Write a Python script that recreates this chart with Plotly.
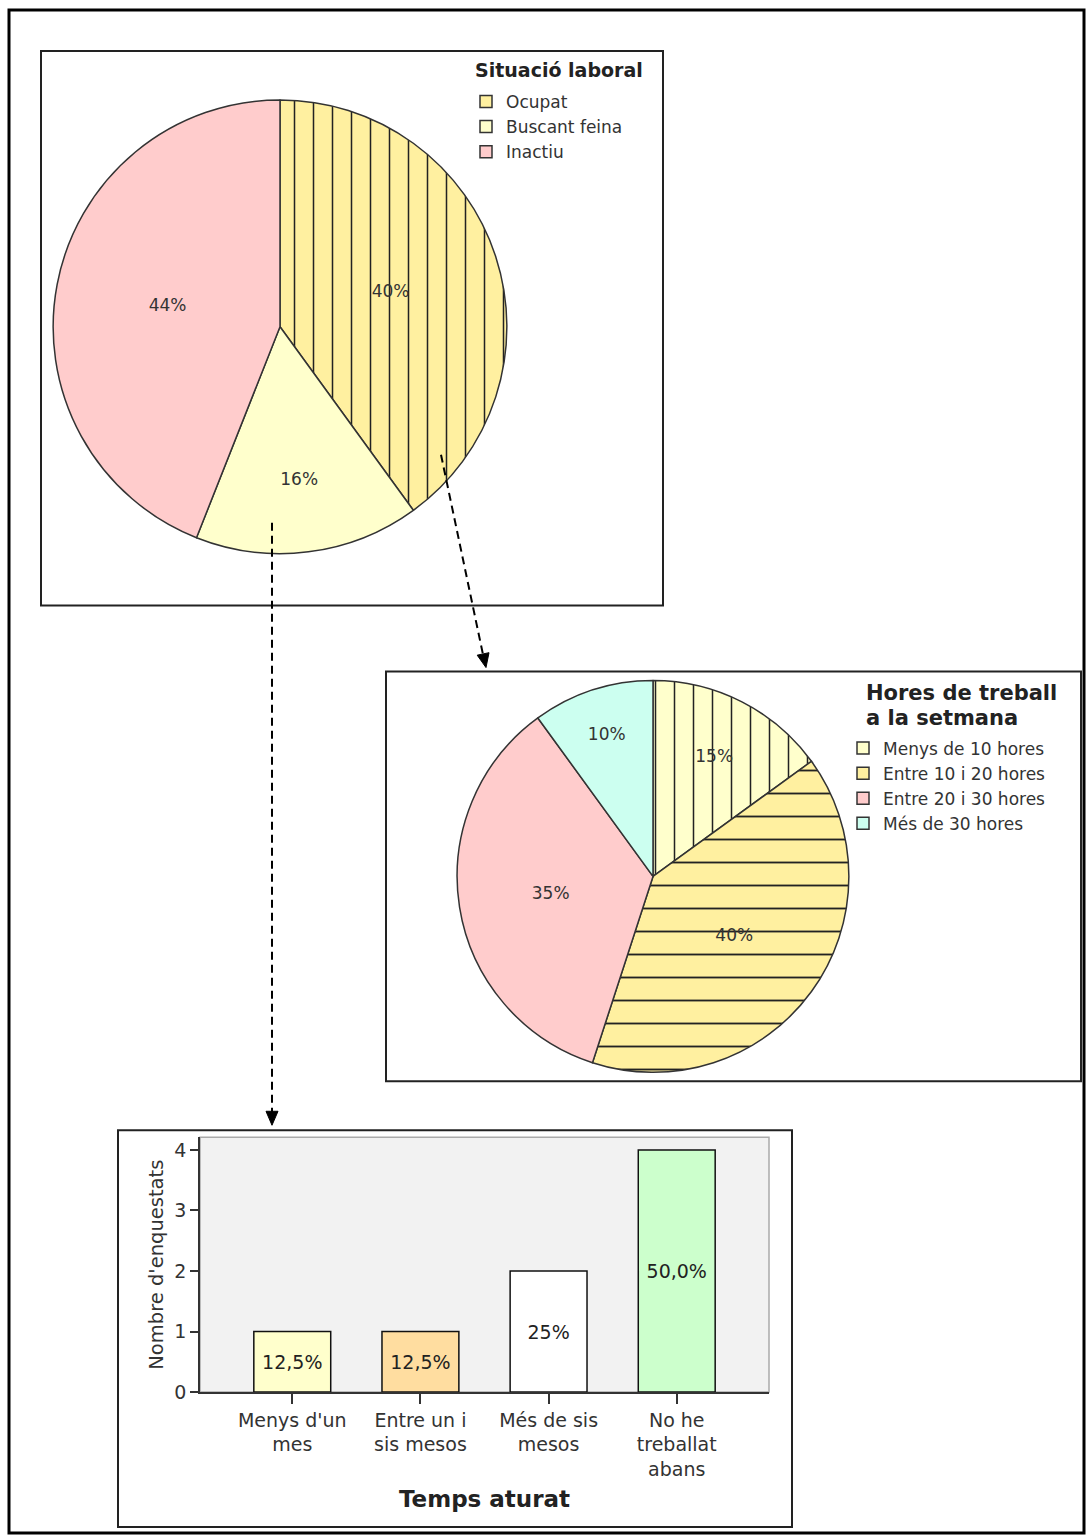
import plotly.graph_objects as go

# the page viewport is a little taller than the picture; the figure fills it exactly
W, H = 1086, 1546
REF_H = 1536

# ---------------- data ----------------
sit_labels = ["Ocupat", "Buscant feina", "Inactiu"]
sit_values = [40, 16, 44]
sit_colors = ["#FFF0A0", "#FFFFCC", "#FFCCCC"]
sit_shapes = ["|", "", ""]
sit_sizes = [19, 19, 19]

hor_labels = ["Menys de 10 hores", "Entre 10 i 20 hores", "Entre 20 i 30 hores", "Més de 30 hores"]
hor_values = [15, 40, 35, 10]
hor_colors = ["#FFFFCC", "#FFF0A0", "#FFCCCC", "#CCFFF0"]
hor_shapes = ["|", "-", "", ""]
hor_sizes = [19, 23, 19, 19]

temps_cats = ["Menys d'un<br>mes", "Entre un i<br>sis mesos", "Més de sis<br>mesos", "No he<br>treballat<br>abans"]
temps_counts = [1, 1, 2, 4]
temps_pct = ["12,5%", "12,5%", "25%", "50,0%"]
temps_colors = ["#FFFFCC", "#FFDDA0", "#FFFFFF", "#CCFFCC"]

FONT = "DejaVu Sans"


def px(x):
    return x / W


def py(y):
    return 1 - y / REF_H


fig = go.Figure()

# Pie 1
cx1, cy1, r1 = 280, 327, 227
fig.add_trace(go.Pie(
    labels=sit_labels, values=sit_values, sort=False, direction="clockwise", rotation=0,
    texttemplate="%{percent:.0%}", textposition="inside", insidetextorientation="horizontal",
    textfont=dict(family=FONT, size=17, color="#333333"),
    marker=dict(colors=sit_colors, line=dict(color="#333333", width=1.5),
                pattern=dict(shape=sit_shapes, fgcolor="#222222", bgcolor=sit_colors,
                             size=sit_sizes, solidity=0.08)),
    domain=dict(x=[px(cx1 - r1), px(cx1 + r1)], y=[py(cy1 + r1), py(cy1 - r1)]),
    legend="legend", hoverinfo="label+percent",
))

# Pie 2
cx2, cy2, r2 = 653, 877, 196
fig.add_trace(go.Pie(
    labels=hor_labels, values=hor_values, sort=False, direction="clockwise", rotation=0,
    texttemplate="%{percent:.0%}", textposition="inside", insidetextorientation="horizontal",
    textfont=dict(family=FONT, size=17, color="#333333"),
    marker=dict(colors=hor_colors, line=dict(color="#333333", width=1.5),
                pattern=dict(shape=hor_shapes, fgcolor="#222222", bgcolor=hor_colors,
                             size=hor_sizes, solidity=0.08)),
    domain=dict(x=[px(cx2 - r2), px(cx2 + r2)], y=[py(cy2 + r2), py(cy2 - r2)]),
    legend="legend2", hoverinfo="label+percent",
))

# Bar chart
fig.add_trace(go.Bar(
    x=list(range(len(temps_cats))), y=temps_counts, text=temps_pct,
    textposition="inside", insidetextanchor="middle", textangle=0,
    textfont=dict(family=FONT, size=19, color="#222222"),
    marker=dict(color=temps_colors, line=dict(color="#111111", width=1.5)),
    width=0.6, showlegend=False, xaxis="x", yaxis="y",
))

shapes = []
# outer border
shapes.append(dict(type="rect", xref="paper", yref="paper", x0=px(9), x1=px(1084), y0=py(1534), y1=py(10),
                   line=dict(color="#000000", width=3)))
# panel borders
for (x0, y0, x1, y1) in [(41, 51, 663, 606), (386, 672, 1081, 1082), (118, 1131, 792, 1528)]:
    shapes.append(dict(type="rect", xref="paper", yref="paper", x0=px(x0), x1=px(x1), y0=py(y1), y1=py(y0),
                       line=dict(color="#222222", width=2)))
# bar plot area border (light)
shapes.append(dict(type="rect", xref="paper", yref="paper", x0=px(200), x1=px(769), y0=py(1393), y1=py(1138),
                   line=dict(color="#AAAAAA", width=1.5), layer="below"))
# dashed connector lines
shapes.append(dict(type="line", xref="paper", yref="paper", x0=px(441), y0=py(455), x1=px(483), y1=py(655),
                   line=dict(color="#000000", width=2, dash="8px,5px")))
shapes.append(dict(type="line", xref="paper", yref="paper", x0=px(272), y0=py(523), x1=px(272), y1=py(1113),
                   line=dict(color="#000000", width=2, dash="8px,5px")))


def tri(pts):
    d = "M " + " L ".join(f"{px(x):.5f},{py(y):.5f}" for x, y in pts) + " Z"
    return dict(type="path", xref="paper", yref="paper", path=d, fillcolor="#000000",
                line=dict(color="#000000", width=1))


shapes.append(tri([(486, 668), (489.0, 653.1), (477.2, 655.6)]))
shapes.append(tri([(272, 1126), (266, 1112), (278, 1112)]))

annotations = [
    dict(text="<b>Situació laboral</b>", xref="paper", yref="paper", x=px(473), y=py(70),
         xanchor="left", yanchor="middle", showarrow=False,
         font=dict(family=FONT, size=19, color="#222222")),
    dict(text="<b>Hores de treball</b>", xref="paper", yref="paper", x=px(864), y=py(693),
         xanchor="left", yanchor="middle", showarrow=False,
         font=dict(family=FONT, size=21, color="#222222")),
    dict(text="<b>a la setmana</b>", xref="paper", yref="paper", x=px(864), y=py(718),
         xanchor="left", yanchor="middle", showarrow=False,
         font=dict(family=FONT, size=21, color="#222222")),
]

fig.update_layout(
    width=W, height=H, autosize=False,
    margin=dict(l=0, r=0, t=0, b=0),
    paper_bgcolor="#FFFFFF", plot_bgcolor="#F2F2F2",
    font=dict(family=FONT, color="#333333"),
    shapes=shapes, annotations=annotations,
    legend=dict(
        x=px(466), y=py(84), xanchor="left", yanchor="top",
        font=dict(family=FONT, size=17, color="#333333"),
        bgcolor="rgba(0,0,0,0)", itemwidth=30, tracegroupgap=0,
        itemclick=False, itemdoubleclick=False,
    ),
    legend2=dict(
        x=px(843), y=py(731), xanchor="left", yanchor="top",
        font=dict(family=FONT, size=17, color="#333333"),
        bgcolor="rgba(0,0,0,0)", itemwidth=30, tracegroupgap=0,
        itemclick=False, itemdoubleclick=False,
    ),
    xaxis=dict(
        domain=[px(200), px(769)], anchor="y",
        range=[-0.72, 3.72], tickmode="array", tickvals=list(range(len(temps_cats))), ticktext=temps_cats,
        ticks="outside", ticklen=10, tickcolor="#333333", tickwidth=1.5,
        showgrid=False, zeroline=False, showline=True, linecolor="#333333", linewidth=1.5,
        tickfont=dict(family=FONT, size=19, color="#333333"),
        title=dict(text="<b>Temps aturat</b>", font=dict(family=FONT, size=23, color="#222222"), standoff=12),
        fixedrange=True,
    ),
    yaxis=dict(
        domain=[py(1393), py(1138)], anchor="x",
        range=[0, 4.21], tickmode="array", tickvals=[0, 1, 2, 3, 4],
        ticks="outside", ticklen=8, tickcolor="#333333", tickwidth=1.5,
        showgrid=False, zeroline=False, showline=True, linecolor="#333333", linewidth=1.5,
        tickfont=dict(family=FONT, size=19, color="#333333"),
        title=dict(text="Nombre d'enquestats", font=dict(family=FONT, size=19.5, color="#333333"), standoff=6),
        fixedrange=True,
    ),
)

fig.write_html("out.html", config={"displayModeBar": False},
               post_script="document.body.style.margin='0px';")
